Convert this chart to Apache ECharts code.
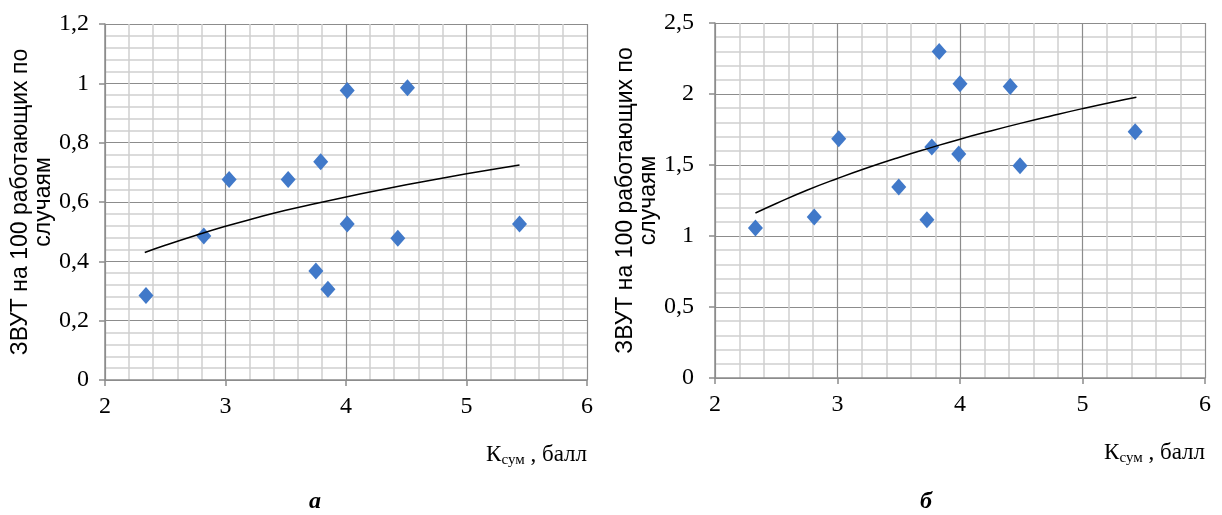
<!DOCTYPE html>
<html>
<head>
<meta charset="utf-8">
<script src="https://cdn.jsdelivr.net/npm/echarts@6/dist/echarts.min.js"></script>
<style>
  html, body { margin: 0; padding: 0; background: #fff; }
  #main { width: 1222px; height: 515px; }
</style>
</head>
<body>
<div id="main"></div>
<script>
// данные
var xTicks = [2, 3, 4, 5, 6];

// а) шкала 0..1,2
var xA = [2.34, 2.82, 3.03, 3.52, 3.75, 3.79, 3.85, 4.01, 4.01, 4.43, 4.51, 5.44];
var yA = [0.285, 0.485, 0.676, 0.676, 0.367, 0.736, 0.306, 0.976, 0.526, 0.478, 0.985, 0.526];
// линия тренда (снята по точкам кривой)
var trendX = [2.33, 2.5, 2.75, 3, 3.25, 3.5, 3.75, 4, 4.25, 4.5, 4.75, 5, 5.25, 5.44];
var trendYA = [0.43, 0.454, 0.487, 0.518, 0.546, 0.572, 0.595, 0.617, 0.638, 0.658, 0.677, 0.695, 0.712, 0.725];

// б) шкала 0..2,5
var xB = [2.33, 2.81, 3.01, 3.5, 3.73, 3.77, 3.83, 4.0, 3.99, 4.41, 4.49, 5.43];
var yB = [1.056, 1.134, 1.685, 1.345, 1.115, 1.627, 2.30, 2.073, 1.577, 2.052, 1.495, 1.735];
var trendYB = [1.162, 1.229, 1.322, 1.405, 1.482, 1.553, 1.619, 1.682, 1.74, 1.795, 1.847, 1.897, 1.944, 1.977];

var yName = 'ЗВУТ на 100 работающих по\nслучаям';
var xName = '{k|К}{s|сум}{k| , балл}';

var pairs = function (xs, ys) {
    return xs.map(function (x, i) { return [x, ys[i]]; });
};
var commaFmt = function (v) {
    return String(Number(v.toFixed(2))).replace('.', ',');
};

var myChart = echarts.init(document.getElementById('main'));

var serif = '"Liberation Serif", "Times New Roman", serif';
var sans = '"Liberation Sans", Arial, sans-serif';

var makeX = function (gi) {
    return {
        gridIndex: gi,
        type: 'value',
        min: 2, max: 6, interval: 1,
        minorSplitLine: { show: true, lineStyle: { color: '#d0d0d0', width: 1.5 } },
        minorTick: { show: false, splitNumber: 5 },
        splitLine: { show: true, lineStyle: { color: '#8c8c8c', width: 1.2 } },
        axisLine: { show: true, onZero: false, lineStyle: { color: '#8c8c8c', width: 1.5 } },
        axisTick: { show: true, length: 6, lineStyle: { color: '#8c8c8c', width: 1.5 } },
        axisLabel: { color: '#000', fontFamily: serif, fontSize: 24, margin: 15 },
        name: xName,
        nameLocation: 'end',
        nameGap: 0,
        nameTextStyle: {
            align: 'right', verticalAlign: 'top', padding: [62, 0, 0, 0],
            rich: {
                k: { fontFamily: serif, fontSize: 23, color: '#000', lineHeight: 26 },
                s: { fontFamily: serif, fontSize: 15, color: '#000', lineHeight: 26, verticalAlign: 'bottom', padding: [8, 0, 0, 0] }
            }
        }
    };
};

var makeY = function (gi, max, interval, gap, lblMargin) {
    return {
        gridIndex: gi,
        type: 'value',
        min: 0, max: max, interval: interval,
        minorSplitLine: { show: true, lineStyle: { color: '#d0d0d0', width: 1.5 } },
        minorTick: { show: false, splitNumber: 5 },
        splitLine: { show: true, lineStyle: { color: '#8c8c8c', width: 1.2 } },
        axisLine: { show: true, lineStyle: { color: '#8c8c8c', width: 1.5 } },
        axisTick: { show: true, length: 6, lineStyle: { color: '#8c8c8c', width: 1.5 } },
        axisLabel: { color: '#000', fontFamily: serif, fontSize: 24, margin: lblMargin, formatter: commaFmt },
        name: yName,
        nameLocation: 'middle',
        nameRotate: 90,
        nameGap: gap,
        nameTextStyle: { fontFamily: sans, fontSize: 23, color: '#000', lineHeight: 23, align: 'center' }
    };
};

// у scatter по умолчанию прозрачность 0.8 — убираем
var marker = { color: '#4179c9', opacity: 1 };

var option = {
    animation: false,
    grid: [
        { left: 105, right: 635, top: 24, bottom: 135 },
        { left: 715, right: 17, top: 23, bottom: 137 }
    ],
    xAxis: [makeX(0), makeX(1)],
    yAxis: [makeY(0, 1.2, 0.2, 50, 16), makeY(1, 2.5, 0.5, 53, 21)],
    series: [
        {
            type: 'scatter', xAxisIndex: 0, yAxisIndex: 0,
            symbol: 'diamond', symbolSize: [15, 17],
            itemStyle: marker,
            data: pairs(xA, yA)
        },
        {
            type: 'line', xAxisIndex: 0, yAxisIndex: 0,
            smooth: true, showSymbol: false,
            lineStyle: { color: '#000', width: 1.5 },
            data: pairs(trendX, trendYA)
        },
        {
            type: 'scatter', xAxisIndex: 1, yAxisIndex: 1,
            symbol: 'diamond', symbolSize: [15, 17],
            itemStyle: marker,
            data: pairs(xB, yB)
        },
        {
            type: 'line', xAxisIndex: 1, yAxisIndex: 1,
            smooth: true, showSymbol: false,
            lineStyle: { color: '#000', width: 1.5 },
            data: pairs(trendX, trendYB)
        }
    ],
    graphic: [
        {
            type: 'text', left: 309, top: 490,
            style: { text: 'а', fontFamily: serif, fontSize: 24, fontWeight: 'bold', fontStyle: 'italic', fill: '#000' }
        },
        {
            type: 'text', left: 920, top: 490,
            style: { text: 'б', fontFamily: serif, fontSize: 24, fontWeight: 'bold', fontStyle: 'italic', fill: '#000' }
        }
    ]
};

myChart.setOption(option);
</script>
</body>
</html>
